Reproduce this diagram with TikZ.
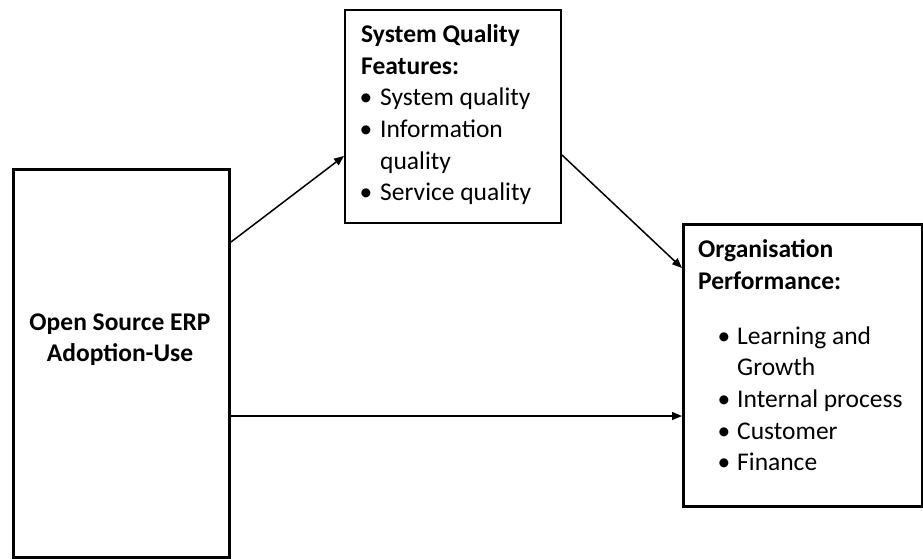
\documentclass[tikz,border=0pt]{standalone}
\usepackage{fontspec}
\setmainfont{Carlito}
\usetikzlibrary{arrows.meta}
\begin{document}
\begin{tikzpicture}[x=1pt,y=-1pt,
  thickbox/.style={draw, line width=3pt, rectangle, inner sep=0pt, anchor=north west},
  thinbox/.style={draw, line width=2pt, rectangle, inner sep=0pt, anchor=north west},
  conn/.style={-{Triangle[length=10pt,width=8pt]}, line width=1.5pt},
  txt/.style={font=\fontsize{25.5}{32}\selectfont, inner sep=0pt, anchor=base west},
  btxt/.style={txt, font=\fontsize{25.5}{32}\selectfont\bfseries},
  bul/.style={txt, anchor=base}]
\useasboundingbox (0,0) rectangle (923,558);
% boxes
\node[thickbox, minimum width=216pt, minimum height=388pt] (src) at (12,168) {};
\node[thinbox, minimum width=216pt, minimum height=213pt] (sqf) at (344,9) {};
\node[thickbox, minimum width=239pt, minimum height=282pt] (org) at (682,223) {};
% left box text
\node[btxt, anchor=base] (l1) at (120,330) {Open Source ERP};
\node[btxt, anchor=base] (l2) at (120,361) {Adoption-Use};
% top box text
\node[btxt] (t1) at (361,42) {System Quality};
\node[btxt] (t2) at (361,74) {Features:};
\node[bul] (tb1) at (366,105) {\textbullet};
\node[txt] (t3) at (380,105) {System quality};
\node[bul] (tb2) at (366,137) {\textbullet};
\node[txt] (t4) at (380,137) {Information};
\node[txt] (t5) at (380,169) {quality};
\node[bul] (tb3) at (366,200) {\textbullet};
\node[txt] (t6) at (380,200) {Service quality};
% right box text
\node[btxt] (r1) at (698,257) {Organisation};
\node[btxt] (r2) at (698,289) {Performance:};
\node[bul] (rb1) at (724,344) {\textbullet};
\node[txt] (r3) at (737,344) {Learning and};
\node[txt] (r4) at (737,375) {Growth};
\node[bul] (rb2) at (724,407) {\textbullet};
\node[txt] (r5) at (737,407) {Internal process};
\node[bul] (rb3) at (724,439) {\textbullet};
\node[txt] (r6) at (737,439) {Customer};
\node[bul] (rb4) at (724,470) {\textbullet};
\node[txt] (r7) at (737,470) {Finance};
% connectors
\draw[conn] ([yshift=-74pt]src.north east) -- ([yshift=-147pt]sqf.north west);
\draw[conn] ([yshift=-146pt]sqf.north east) -- ([yshift=-45pt]org.north west);
\draw[conn] ([yshift=-248pt]src.north east) -- ([yshift=-193pt]org.north west);
\end{tikzpicture}
\end{document}
